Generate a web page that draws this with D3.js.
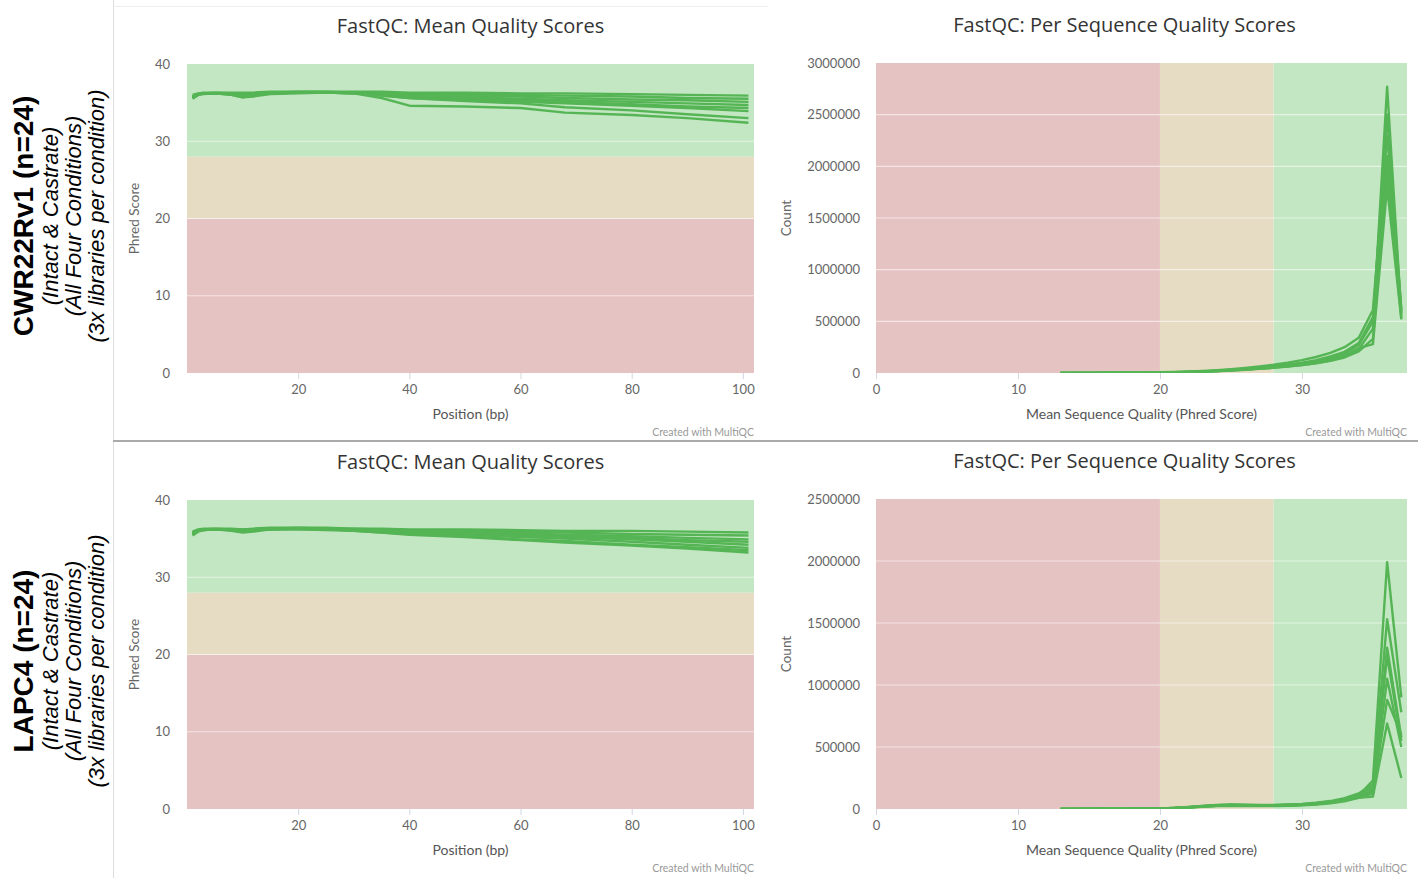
<!DOCTYPE html>
<html><head><meta charset="utf-8">
<script src="https://cdn.jsdelivr.net/npm/d3@7"></script>
<style>body{margin:0;background:#fff}svg{display:block}</style>
</head><body><div id="chart"></div>
<script>
'use strict'
// read positions (bp) of the mean quality curves
const positions=[1,2,3,5,8,10,12,15,20,25,30,35,40,50,60,68,80,90,101]
const cwrMean=[
[36.0,36.2,36.3,36.3,36.3,36.3,36.3,36.4,36.4,36.4,36.4,36.4,36.3,36.3,36.2,36.2,36.1,36.0,35.9],
[35.8,36.1,36.2,36.3,36.2,36.2,36.2,36.3,36.4,36.4,36.3,36.3,36.2,36.1,36.0,35.9,35.8,35.6,35.5],
[35.6,36.0,36.2,36.2,36.0,35.7,35.9,36.2,36.3,36.3,36.3,36.2,36.1,35.9,35.8,35.6,35.4,35.3,35.1],
[35.7,36.1,36.2,36.2,36.2,36.1,36.2,36.3,36.3,36.3,36.3,36.1,35.9,35.7,35.5,35.3,35.1,34.9,34.7],
[35.5,36.0,36.1,36.2,36.0,35.7,35.8,36.1,36.2,36.3,36.2,36.0,35.8,35.5,35.3,35.1,34.8,34.5,34.3],
[35.8,36.1,36.2,36.2,36.2,36.0,36.2,36.2,36.3,36.3,36.2,35.9,35.6,35.3,35.1,34.9,34.6,34.3,33.9],
[35.7,36.1,36.2,36.2,36.2,36.1,36.2,36.3,36.3,36.3,36.2,35.9,35.6,35.2,34.9,34.4,34.0,33.5,33.0],
[35.6,36.0,36.2,36.2,36.1,36.0,36.1,36.2,36.3,36.3,36.2,35.6,34.6,34.5,34.3,33.7,33.4,33.0,32.4]]
const lapcMean=[
[35.9,36.2,36.3,36.3,36.3,36.2,36.3,36.4,36.4,36.4,36.3,36.3,36.2,36.2,36.1,36.0,36.0,35.9,35.8],
[35.7,36.1,36.2,36.3,36.2,36.2,36.2,36.3,36.4,36.3,36.3,36.2,36.1,36.0,35.9,35.8,35.6,35.5,35.4],
[35.5,36.0,36.2,36.2,36.0,35.8,35.9,36.2,36.3,36.3,36.2,36.1,36.0,35.9,35.7,35.5,35.3,35.1,34.9],
[35.8,36.1,36.2,36.2,36.2,36.1,36.2,36.3,36.3,36.3,36.2,36.1,35.9,35.8,35.6,35.4,35.1,34.8,34.6],
[35.6,36.0,36.1,36.2,36.1,36.0,36.1,36.2,36.3,36.2,36.1,36.0,35.8,35.6,35.4,35.2,34.9,34.6,34.2],
[35.7,36.1,36.2,36.2,36.2,36.1,36.2,36.3,36.3,36.2,36.1,35.9,35.7,35.5,35.2,35.0,34.6,34.2,33.8],
[35.4,35.9,36.1,36.2,36.1,36.0,36.1,36.2,36.2,36.2,36.0,35.8,35.6,35.3,34.9,34.7,34.2,33.9,33.5],
[35.6,36.0,36.1,36.2,36.1,36.0,36.1,36.2,36.2,36.1,36.0,35.8,35.5,35.2,34.8,34.5,34.1,33.7,33.2]]
// mean sequence quality (phred) of the per sequence curves
const qualities=[13,14,15,16,17,18,19,20,21,22,23,24,25,26,27,28,29,30,31,32,33,34,35,36,37]
const cwrCount=[
[1000,1000,1500,1500,2000,2500,3000,4000,6000,9000,13000,18000,25000,33000,42000,52000,64000,78000,95000,120000,160000,230000,430000,2770000,560000],
[1000,1500,1500,2000,2500,3000,4000,5000,7000,10000,15000,21000,29000,38000,49000,61000,75000,92000,115000,145000,190000,270000,500000,2500000,600000],
[1500,2000,2000,2500,3000,4000,5000,7000,10000,14000,20000,28000,38000,50000,64000,80000,100000,125000,155000,195000,250000,340000,610000,2300000,620000],
[1000,1000,1500,2000,2500,3000,4000,5000,8000,11000,16000,23000,31000,41000,53000,66000,82000,100000,125000,160000,205000,290000,540000,2100000,580000],
[1000,1000,1000,1500,2000,2500,3000,4000,6000,8000,12000,17000,23000,31000,40000,50000,62000,76000,94000,118000,150000,210000,330000,1950000,530000],
[1000,1000,1500,1500,2000,2500,3000,4000,6000,9000,13000,19000,26000,34000,44000,55000,68000,84000,104000,130000,170000,240000,280000,1800000,520000]]
const lapcCount=[
[1000,1000,1000,1500,1500,2000,2500,4000,8000,14000,22000,28000,30000,29000,27000,27000,29000,34000,41000,54000,75000,110000,230000,1990000,900000],
[1000,1000,1500,1500,2000,2500,3000,5000,9000,16000,25000,33000,36000,35000,33000,33000,36000,41000,50000,64000,88000,125000,200000,1530000,780000],
[1000,1000,1000,1500,2000,2500,3000,4000,7000,12000,19000,25000,27000,26000,25000,25000,28000,32000,39000,50000,68000,95000,160000,1300000,580000],
[1000,1500,1500,2000,2000,3000,3500,5000,9000,15000,24000,31000,34000,33000,31000,31000,34000,39000,47000,60000,80000,115000,180000,1230000,550000],
[1000,1000,1000,1500,1500,2000,2500,4000,7000,13000,20000,26000,29000,28000,26000,26000,29000,33000,40000,51000,70000,100000,140000,1050000,500000],
[1000,1000,1500,1500,2000,2500,3000,4500,8000,14000,22000,29000,32000,31000,29000,29000,32000,37000,45000,57000,76000,105000,120000,880000,600000],
[1000,1000,1000,1500,1500,2000,2500,3500,6000,11000,18000,23000,25000,24000,23000,23000,26000,30000,36000,46000,62000,90000,100000,690000,250000]]
const phredTicks=[0,10,20,30,40]
const positionTicks=[20,40,60,80,100]
const qualityTicks=[0,10,20,30]
const cwrCountTicks=[0,500000,1000000,1500000,2000000,2500000,3000000]
const lapcCountTicks=[0,500000,1000000,1500000,2000000,2500000]
const bandLimits=[0,20,28]
const bandColors=['#e6c3c3','#e6dcc3','#c3e6c3']
const rowLabels=[
{name:'CWR22Rv1 (n=24)',notes:['(Intact & Castrate)','(All Four Conditions)','(3x libraries per condition)']},
{name:'LAPC4  (n=24)',notes:['(Intact & Castrate)','(All Four Conditions)','(3x libraries per condition)']}]

const W=1421,H=878
const lineColor='#55b555'
const smallFont='Lato, sans-serif'
const svg=d3.select('#chart').append('svg').attr('width',W).attr('height',H)
const defs=svg.append('defs')
let clipId=0

function drawPanel(o){
let x=d3.scaleLinear().domain(o.xDomain).range([o.left,o.left+o.width])
let y=d3.scaleLinear().domain(o.yDomain).range([o.top+o.height,o.top])
let g=svg.append('g')
// threshold bands
let lims=bandLimits.concat([o.bandAxis=='y'?o.yDomain[1]:o.xDomain[1]])
for(let i=0;i<bandColors.length;i++){
if(o.bandAxis=='y'){g.append('rect').attr('x',o.left).attr('width',o.width).attr('y',y(lims[i+1])).attr('height',y(lims[i])-y(lims[i+1])).attr('fill',bandColors[i])}
else{g.append('rect').attr('y',o.top).attr('height',o.height).attr('x',x(lims[i])).attr('width',x(lims[i+1])-x(lims[i])).attr('fill',bandColors[i])}}
// grid
g.selectAll('.grid').data(o.yTicks.slice(1,-1)).enter().append('line').attr('x1',o.left).attr('x2',o.left+o.width).attr('y1',d=>y(d)).attr('y2',d=>y(d)).attr('stroke','#fff').attr('stroke-opacity',0.55).attr('stroke-width',1.2)
// y axis
let ya=d3.axisLeft(y).tickValues(o.yTicks).tickSize(0).tickPadding(o.yPad).tickFormat(d3.format('d'))
let yg=g.append('g').attr('transform','translate('+o.left+',0)').call(ya)
yg.select('.domain').remove()
yg.selectAll('text').attr('fill','#666').style('font-family',smallFont).style('font-size','13px')
// x axis
let xa=d3.axisBottom(x).tickValues(o.xTicks).tickSize(6).tickPadding(6)
let xg=g.append('g').attr('transform','translate(0,'+(o.top+o.height)+')').call(xa)
xg.select('.domain').remove()
xg.selectAll('line').attr('stroke','#d0d7e3')
xg.selectAll('text').attr('fill','#666').style('font-family',smallFont).style('font-size','13px')
// lines
let id='clip'+(clipId++)
defs.append('clipPath').attr('id',id).append('rect').attr('x',o.left).attr('y',o.top).attr('width',o.width).attr('height',o.height)
let line=d3.line().x((d,i)=>x(o.xs[i])).y(d=>y(d))
g.append('g').attr('clip-path','url(#'+id+')').selectAll('path').data(o.series).enter().append('path').attr('d',line).attr('fill','none').attr('stroke',lineColor).attr('stroke-width',2.4).attr('stroke-linejoin','round')
// texts
g.append('text').attr('x',o.left+o.width/2+o.titleShift).attr('y',o.top-31).attr('text-anchor','middle').style('font-family','"Open Sans", sans-serif').style('font-size','20px').attr('fill','#333').text(o.title)
g.append('text').attr('x',o.left+o.width/2).attr('y',o.top+o.height+46).attr('text-anchor','middle').style('font-family',smallFont).style('font-size','14px').attr('fill','#555').text(o.xTitle)
g.append('text').attr('transform','translate('+(o.left-o.yTitleOff)+','+(o.top+o.height/2)+')rotate(-90)').attr('text-anchor','middle').style('font-family',smallFont).style('font-size','13.5px').attr('fill','#666').text(o.yTitle)
g.append('text').attr('x',o.left+o.width).attr('y',o.top+o.height+63).attr('text-anchor','end').style('font-family',smallFont).style('font-size','10.5px').attr('fill','#999').text('Created with MultiQC')}

// frame lines
svg.append('line').attr('x1',113.5).attr('x2',113.5).attr('y1',0).attr('y2',H).attr('stroke','#ddd')
svg.append('line').attr('x1',113).attr('x2',768).attr('y1',6.5).attr('y2',6.5).attr('stroke','#eee')
svg.append('line').attr('x1',113).attr('x2',1418).attr('y1',441).attr('y2',441).attr('stroke','#aaa').attr('stroke-width',2)

let rows=[{top:64,mean:cwrMean,count:cwrCount,countTicks:cwrCountTicks},{top:500,mean:lapcMean,count:lapcCount,countTicks:lapcCountTicks}]
rows.forEach(function(r){
drawPanel({left:187,top:r.top,width:567,height:309,xDomain:[0,102],yDomain:[0,40],xTicks:positionTicks,yTicks:phredTicks,bandAxis:'y',xs:positions,series:r.mean,title:'FastQC: Mean Quality Scores',titleShift:0,xTitle:'Position (bp)',yTitle:'Phred Score',yTitleOff:48,yPad:17})
drawPanel({left:876,top:r.top-1,width:531,height:310,xDomain:[0,37.4],yDomain:[0,r.countTicks[r.countTicks.length-1]],xTicks:qualityTicks,yTicks:r.countTicks,bandAxis:'x',xs:qualities,series:r.count,title:'FastQC: Per Sequence Quality Scores',titleShift:-17,xTitle:'Mean Sequence Quality (Phred Score)',yTitle:'Count',yTitleOff:85,yPad:16})})

// row labels on the left
rowLabels.forEach(function(l,i){let cy=i==0?216:661
let lg=svg.append('g').style('font-family','"Liberation Sans", Arial, sans-serif').attr('fill','#000')
lg.append('text').attr('transform','translate(33,'+cy+')rotate(-90)').attr('text-anchor','middle').style('font-size','28px').style('font-weight','bold').text(l.name)
let xs=[58,81,104]
l.notes.forEach(function(t,j){lg.append('text').attr('transform','translate('+xs[j]+','+cy+')rotate(-90)').attr('text-anchor','middle').style('font-size','22px').style('font-style','italic').text(t)})})
</script></body></html>
